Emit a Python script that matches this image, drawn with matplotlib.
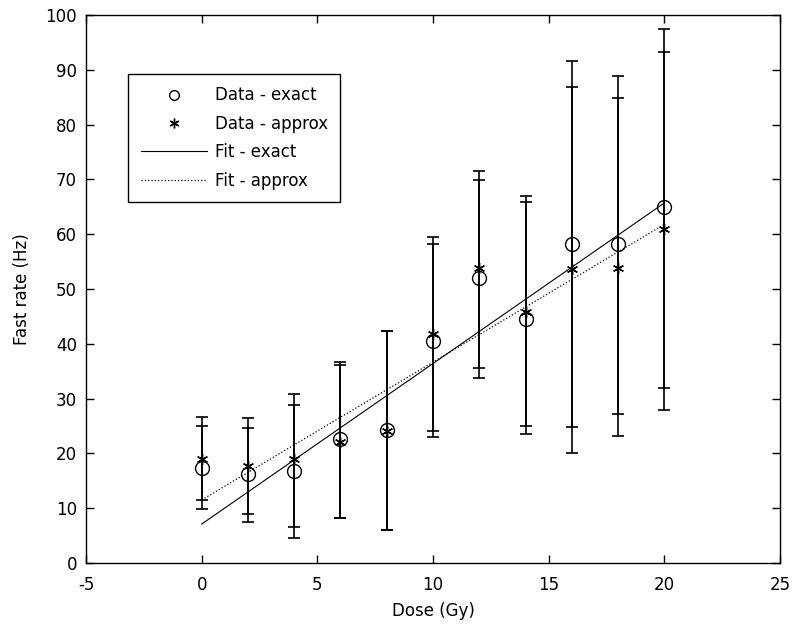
import matplotlib
matplotlib.use("Agg")
import matplotlib.pyplot as plt
from matplotlib.lines import Line2D

plt.rcParams['font.family'] = ['DejaVu Sans']
plt.rcParams['axes.unicode_minus'] = False

dose = [0, 2, 4, 6, 8, 10, 12, 14, 16, 18, 20]
exact = [17.3, 16.2, 16.8, 22.6, 24.3, 40.6, 52.0, 44.6, 58.2, 58.2, 65.0]
exact_lo = [9.8, 7.4, 4.6, 8.2, 6.1, 23.0, 33.7, 23.6, 24.8, 27.1, 32.0]
exact_hi = [25.0, 24.6, 28.8, 36.6, 42.4, 58.2, 69.9, 65.9, 91.6, 88.9, 97.4]
approx = [19.0, 17.7, 19.0, 22.1, 24.1, 41.8, 53.9, 45.8, 53.6, 53.8, 60.9]
approx_lo = [11.5, 8.9, 6.6, 8.2, 6.1, 24.0, 35.5, 25.0, 20.1, 23.1, 28.0]
approx_hi = [26.7, 26.4, 30.8, 36.1, 42.4, 59.4, 71.6, 66.9, 86.9, 84.8, 93.3]

fit_x = [0, 20]
fit_exact = [7.1, 65.7]
fit_approx = [11.5, 61.8]

xticks = [-5, 0, 5, 10, 15, 20, 25]
yticks = [0, 10, 20, 30, 40, 50, 60, 70, 80, 90, 100]

FS = 12

fig = plt.figure(figsize=(7.93, 6.24), dpi=100)
ax = fig.add_axes([86/793, (624-563)/624, (780-86)/793, (563-15)/624])

ex_err = [[e - l for e, l in zip(exact, exact_lo)], [h - e for e, h in zip(exact, exact_hi)]]
ap_err = [[a - l for a, l in zip(approx, approx_lo)], [h - a for a, h in zip(approx, approx_hi)]]

ax.errorbar(dose, exact, yerr=ex_err, fmt='none', ecolor='black', elinewidth=1.2, capsize=4.3, capthick=1.2)
ax.errorbar(dose, approx, yerr=ap_err, fmt='none', ecolor='black', elinewidth=1.2, capsize=4.3, capthick=1.2)

ax.plot(dose, exact, linestyle='none', marker='o', markersize=10, markerfacecolor='none',
        markeredgecolor='black', markeredgewidth=1.0, label='Data - exact')
ax.plot(dose, approx, linestyle='none', marker=(6, 2, 0), markersize=8, markeredgecolor='black',
        markeredgewidth=1.0, label='Data - approx')
ax.plot(fit_x, fit_exact, '-', color='black', linewidth=0.8, label='Fit - exact')
ax.plot(fit_x, fit_approx, ':', color='black', linewidth=0.9, label='Fit - approx')

ax.set_xlim(-5, 25)
ax.set_ylim(0, 100)
ax.set_xticks(xticks)
ax.set_yticks(yticks)
ax.tick_params(direction='in', length=6, width=1, top=True, right=True, labelsize=FS)
ax.tick_params(axis='x', pad=9)
ax.tick_params(axis='y', pad=6.5)
for s in ax.spines.values():
    s.set_linewidth(1.0)

ax.set_xlabel('Dose (Gy)', fontsize=FS, labelpad=6)
ax.set_ylabel('Fast rate (Hz)', fontsize=FS)
ax.yaxis.set_label_coords(-0.079, 0.5)

handles = [
    Line2D([], [], linestyle='none', marker='o', markersize=7, markerfacecolor='none', markeredgecolor='black'),
    Line2D([], [], linestyle='none', marker=(6, 2, 0), markersize=7, markeredgecolor='black'),
    Line2D([], [], linestyle='-', color='black', linewidth=0.8),
    Line2D([], [], linestyle=':', color='black', linewidth=0.9),
]
labels = ['Data - exact', 'Data - approx', 'Fit - exact', 'Fit - approx']
leg = ax.legend(handles, labels, loc='upper left', bbox_to_anchor=((128-86)/694, (563-74)/548),
                borderaxespad=0, fancybox=False, edgecolor='black', framealpha=1, fontsize=FS,
                handlelength=4.0, handletextpad=0.45, labelspacing=0.62, borderpad=0.75)
leg.get_frame().set_linewidth(1.0)

fig.savefig('out.png', dpi=100)
